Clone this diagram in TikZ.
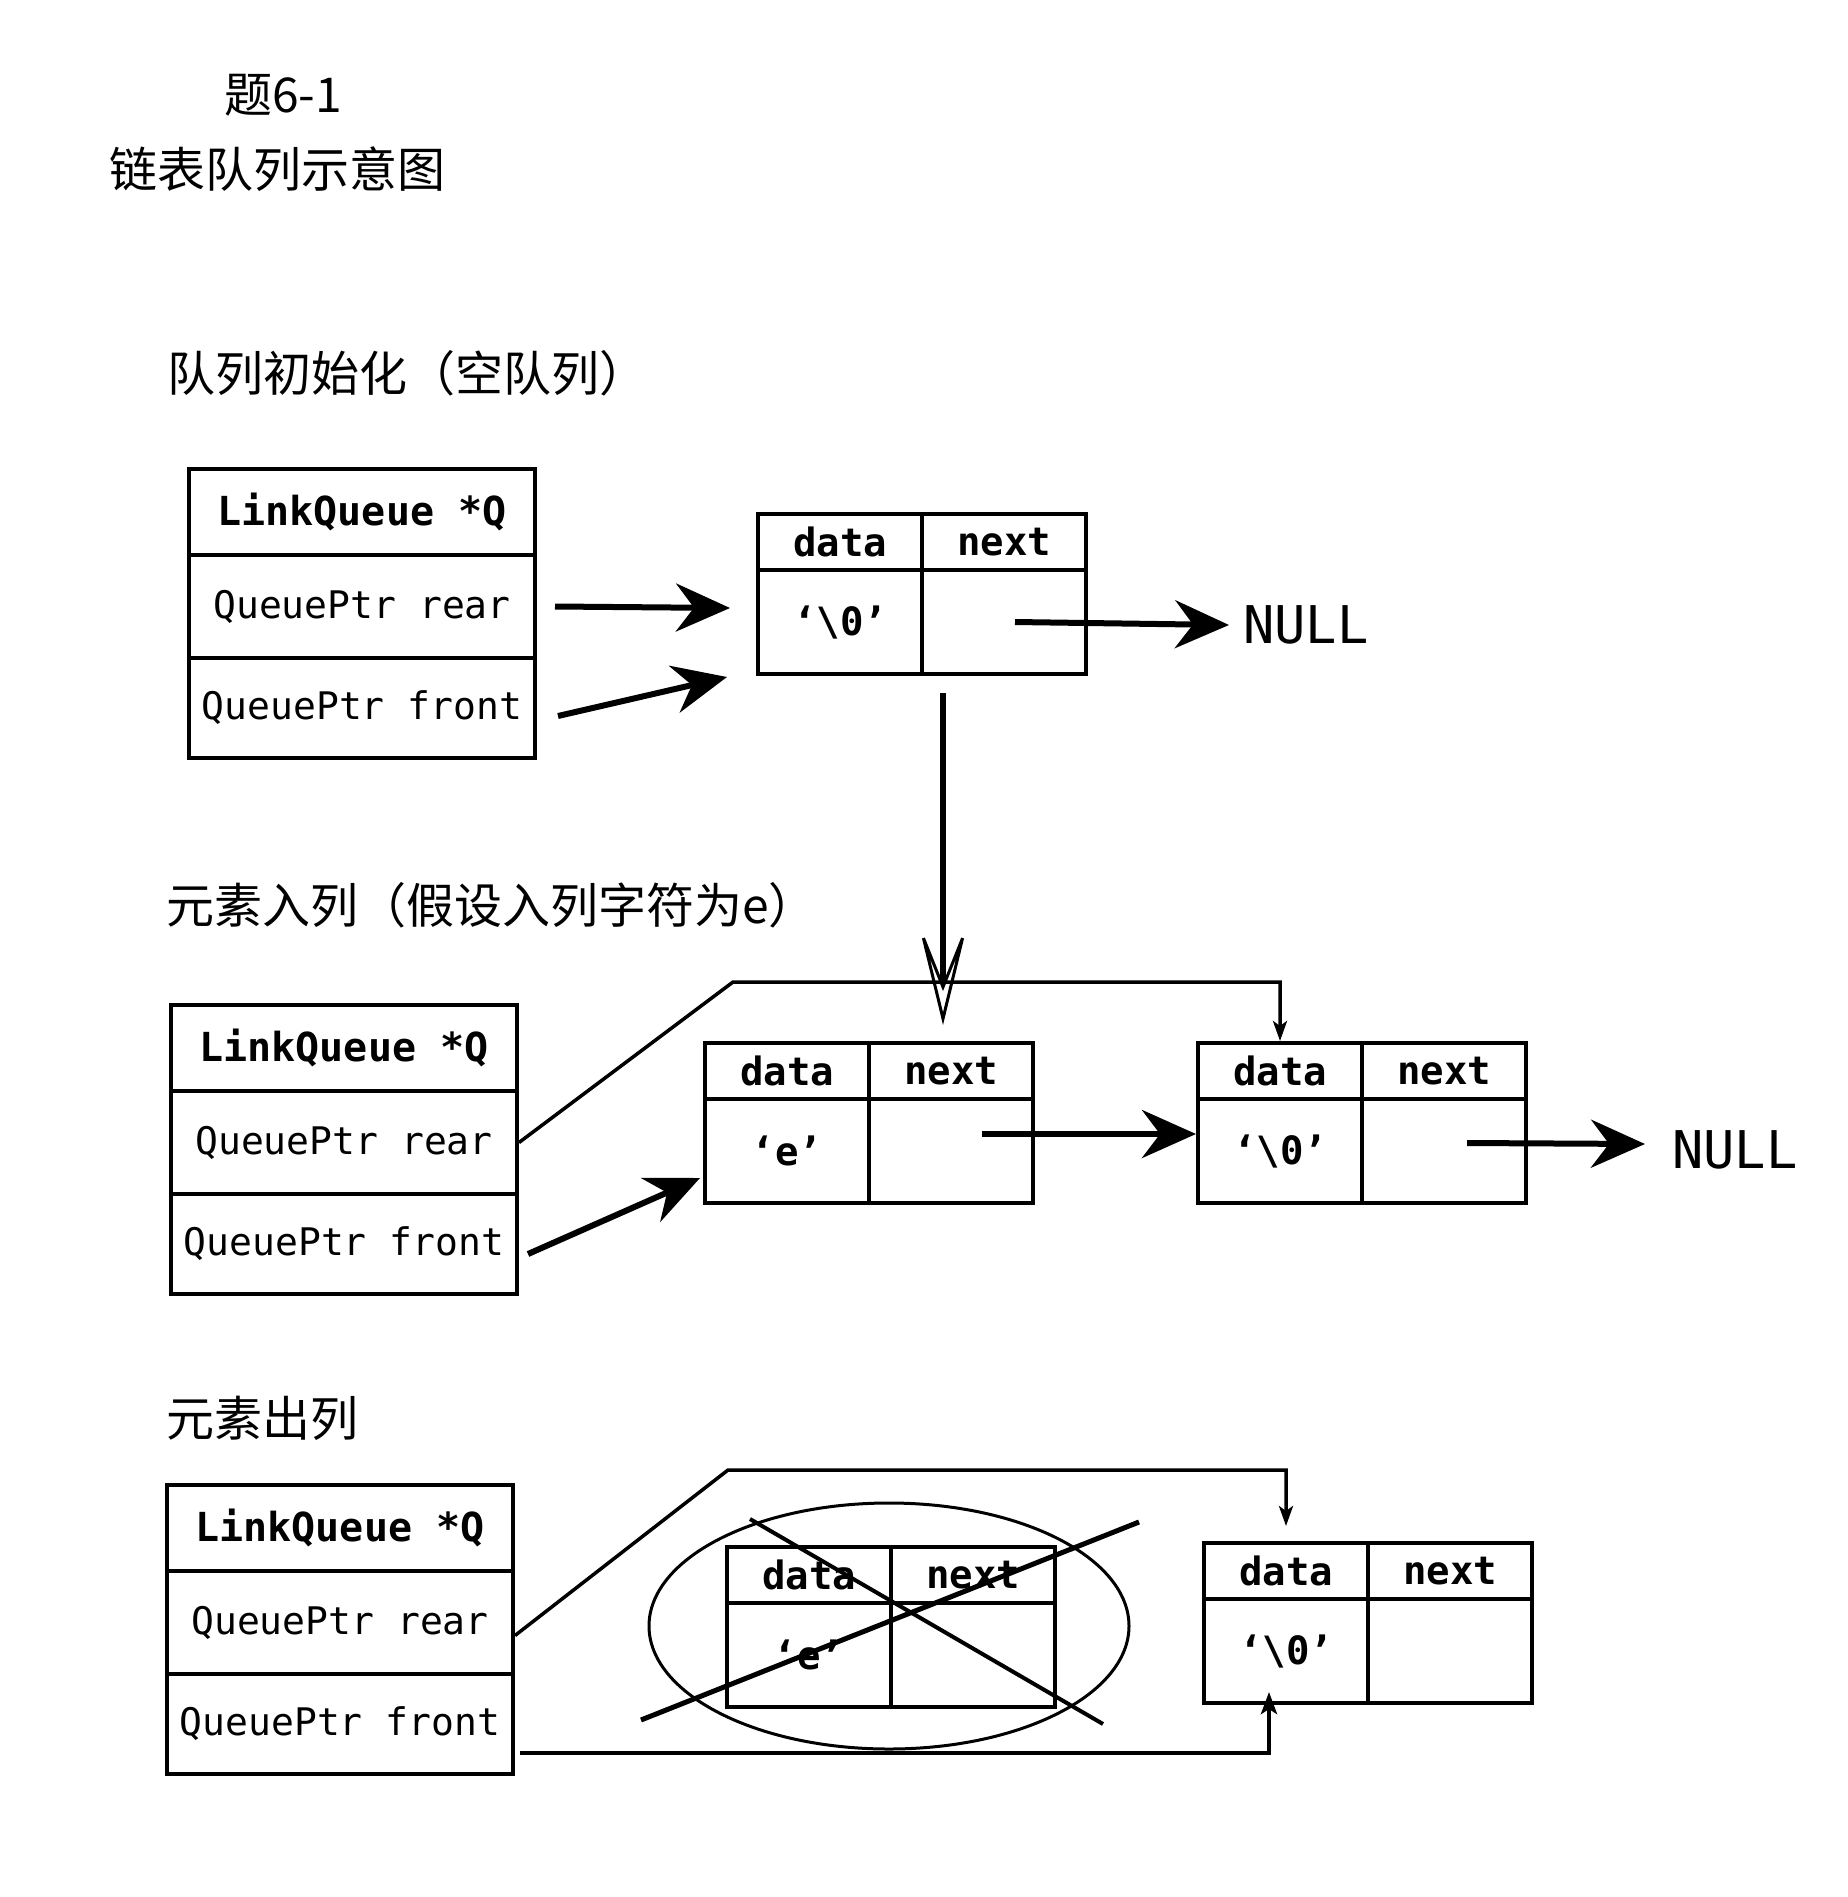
\documentclass[tikz,border=0pt]{standalone}
\usepackage{fontspec}
\setmonofont{DejaVu Sans Mono}
\newfontfamily\cjk{Noto Sans CJK SC}
\usetikzlibrary{arrows.meta,shapes.geometric,calc}

\tikzset{
  lqrow/.style={draw, line width=4pt, minimum width=346pt, inner sep=0pt, font=\ttfamily\fontsize{38}{44}\selectfont},
  cellh/.style={draw, line width=4pt, minimum width=164pt, minimum height=56pt, inner sep=0pt, font=\ttfamily\bfseries\fontsize{39}{44}\selectfont},
  cellb/.style={cellh, minimum height=104pt},
  bigarrow/.style={line width=6pt, -{Stealth[length=54pt,width=48pt,inset=18pt]}},
  thinarrow/.style={line width=3.5pt, -{Stealth[length=20pt,width=14pt,inset=5pt]}},
  cjklabel/.style={anchor=west, inner sep=0pt, font=\cjk\fontsize{48}{56}\selectfont},
  nulltext/.style={anchor=west, inner sep=0pt, font=\ttfamily\fontsize{52}{60}\selectfont},
}

\newcommand\lqbox[3]{%
  \node[lqrow, minimum height=86pt, font=\ttfamily\bfseries\fontsize{40}{44}\selectfont] (#1q) at ({#2+173},{#3+43}) {LinkQueue *Q};
  \node[lqrow, minimum height=103pt] (#1r) at ({#2+173},{#3+137.5}) {QueuePtr rear};
  \node[lqrow, minimum height=100pt] (#1f) at ({#2+173},{#3+239}) {QueuePtr front};
}
\newcommand\qnode[4]{%
  \node[cellh] (#1d) at ({#2+82},{#3+28}) {data};
  \node[cellh] (#1n) at ({#2+246},{#3+28}) {next};
  \node[cellb] (#1v) at ({#2+82},{#3+108}) {#4};
  \node[cellb] (#1p) at ({#2+246},{#3+108}) {};
}

\begin{document}
\begin{tikzpicture}[x=1pt,y=-1pt]
\fill[white] (0,0) rectangle (1847,1897);
\useasboundingbox (0,0) rectangle (1847,1897);

% titles
\node[cjklabel] (t1) at (224,95) {题6-1};
\node[cjklabel] (t2) at (109,169) {链表队列示意图};
\node[cjklabel] (s1) at (167,373) {队列初始化（空队列）};
\node[cjklabel] (s2) at (166,905) {元素入列（假设入列字符为e）};
\node[cjklabel] (s3) at (166,1418) {元素出列};

% ---------- section 1
\lqbox{qa}{189}{469}
\qnode{na}{758}{514}{‘\textbackslash0’}
\node[nulltext] (nulla) at (1243,625) {NULL};

\draw[bigarrow] ([xshift=18pt]qar.east) -- ([shift={(-26pt,14pt)}]nav.west);
\draw[bigarrow] ([shift={(21pt,-8pt)}]qaf.east) -- ([shift={(-29pt,-55pt)}]nav.west);
\draw[bigarrow] ([xshift=11pt]nap.center) -- ([xshift=-14pt]nulla.west);

% ---------- section 2
\lqbox{qb}{171}{1005}
\qnode{nb}{705}{1043}{‘e’}
\qnode{nc}{1198}{1043}{‘\textbackslash0’}
\node[nulltext] (nullb) at (1672,1150) {NULL};

\coordinate (vs) at ([shift={(19pt,-17pt)}]nav.south east);
\path (vs |- nbd.north) coordinate (vt);
\coordinate (ve) at ([yshift=16pt]vt);
\draw[line width=6pt, -{Stealth[open, fill=white, length=107pt, width=52pt, inset=65pt, line width=3pt]}] (vs) -- (ve);

\coordinate (rb) at (733,982);
\draw[thinarrow] (qbr.east) -- (rb) -- (rb -| ncd.north) -- (ncd.north);
\draw[bigarrow] ([shift={(9pt,-10pt)}]qbf.east) -- ([shift={(-3pt,-27pt)}]nbv.west);
\draw[bigarrow] ([shift={(31pt,17pt)}]nbp.center) -- ([yshift=17pt]ncv.west);
\draw[bigarrow] ([shift={(23pt,8pt)}]ncp.center) -- ([shift={(-27pt,6pt)}]nullb.west);

% ---------- section 3
\lqbox{qc}{167}{1485}
\qnode{nd}{727}{1547}{‘e’}
\qnode{ne}{1204}{1543}{‘\textbackslash0’}

\node[draw, ellipse, line width=3pt, minimum width=480pt, minimum height=246pt] (ell) at (889,1626) {};
\draw[line width=4pt] (750,1519) -- (1103,1724);
\draw[line width=5pt] (641,1720) -- (1139,1522);

\coordinate (rc) at (728,1470);
\draw[thinarrow] ([yshift=-13pt]qcr.east) -- (rc) -- (rc -| ned.north) -- ([yshift=15pt]ned.north);
\coordinate (fe) at ([shift={(-17pt,13pt)}]nev.south);
\draw[line width=4.5pt, -{Stealth[length=22pt,width=16pt,inset=5pt]}] ([shift={(5pt,-29pt)}]qcf.east) -| (fe);
\end{tikzpicture}
\end{document}
